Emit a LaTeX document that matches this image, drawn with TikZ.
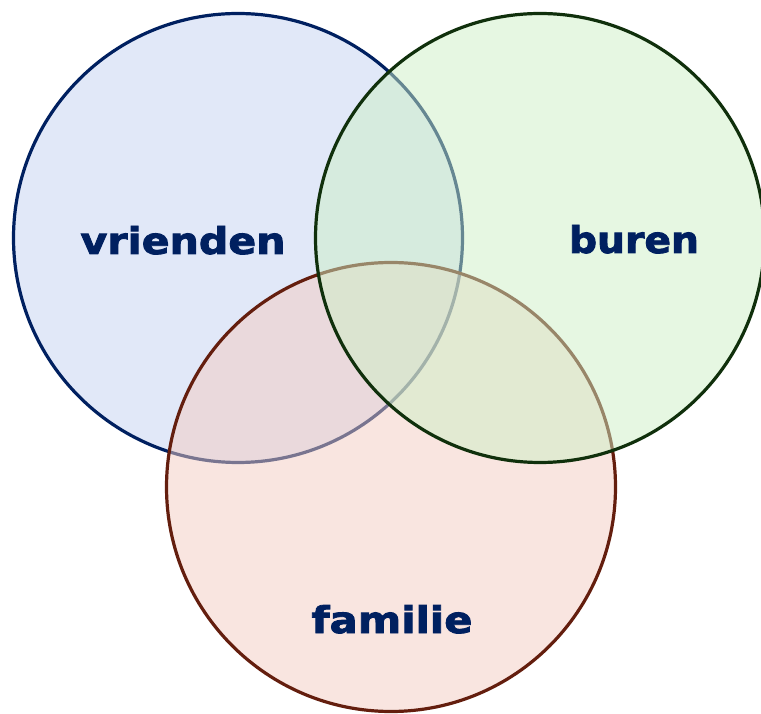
\documentclass[tikz,border=0pt]{standalone}
\usepackage{fontspec}
\setmainfont{DejaVu Sans}
\newfontfamily\heavyfont{DejaVu Sans Bold}[FakeBold=2.2]
\usepackage{graphicx}
\definecolor{bluefill}{RGB}{195,209,241}
\definecolor{greenfill}{RGB}{205,239,197}
\definecolor{redfill}{RGB}{243,203,193}
\definecolor{bluestroke}{RGB}{0,32,96}
\definecolor{greenstroke}{RGB}{16,48,12}
\definecolor{redstroke}{RGB}{100,30,14}
\definecolor{labelcol}{RGB}{0,32,96}
\begin{document}
\begin{tikzpicture}[x=1pt,y=1pt,
  setcircle/.style={line width=3.2pt, fill opacity=0.5},
  setlabel/.style={anchor=base, inner sep=0pt, text=labelcol, font=\heavyfont}]
\useasboundingbox (0,0) rectangle (761,713);
\begin{scope}
\clip (0,0) rectangle (761,713);
\path[setcircle, draw=bluestroke, fill=bluefill] (238,475) circle[radius=224.5];
\path[setcircle, draw=redstroke, fill=redfill] (391,226) circle[radius=224.5];
\path[setcircle, draw=greenstroke, fill=greenfill] (540,475) circle[radius=224.5];
\end{scope}
\node[setlabel] (vrienden) at (183,459) {\resizebox{205pt}{28pt}{vrienden}};
\node[setlabel] (buren) at (634,460) {\resizebox{130pt}{28pt}{buren}};
\node[setlabel] (familie) at (392,80) {\resizebox{161pt}{28pt}{familie}};
\end{tikzpicture}
\end{document}
